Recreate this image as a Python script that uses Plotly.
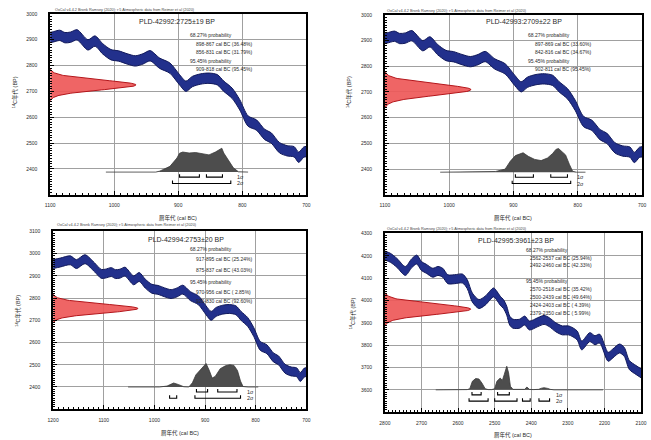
import numpy as np
import plotly.graph_objects as go

W, H = 651, 440

# ---------------- data ----------------
# IntCal20 calibration curve (centre line), 1200-700 cal BC
curve_bc = [1200, 1186, 1166, 1154, 1137, 1118, 1105, 1097, 1085, 1077, 1068, 1058, 1041, 1030, 1018,
            1005, 993, 980, 967, 955, 944, 929, 913, 898, 888, 878, 865, 852, 839, 829, 816, 804, 791,
            778, 765, 755, 742, 730, 719, 712, 704, 700]
curve_bp = [2953, 2960, 2970, 2953, 2975, 2938, 2909, 2910, 2917, 2908, 2910, 2919, 2880, 2895, 2865,
            2842, 2837, 2826, 2818, 2826, 2838, 2809, 2790, 2745, 2720, 2738, 2748, 2751, 2745, 2720,
            2693, 2648, 2585, 2570, 2533, 2520, 2482, 2470, 2466, 2445, 2465, 2467]
# calibration curve, 2800-2100 cal BC
curve4_bc = [2800, 2785, 2767, 2744, 2727, 2713, 2700, 2687, 2669, 2655, 2642, 2628, 2610, 2588, 2575,
             2561, 2543, 2526, 2503, 2494, 2485, 2476, 2467, 2459, 2450, 2432, 2418, 2405, 2382, 2365,
             2351, 2333, 2315, 2298, 2275, 2262, 2240, 2226, 2213, 2190, 2177, 2159, 2146, 2132, 2114, 2100]
curve4_bp = [4201, 4191, 4168, 4132, 4166, 4183, 4154, 4142, 4124, 4132, 4124, 4095, 4095, 4098, 4073,
             4013, 3984, 3999, 4036, 4021, 3999, 3984, 3954, 3910, 3896, 3896, 3910, 3888, 3903, 3913,
             3903, 3880, 3866, 3866, 3844, 3799, 3836, 3822, 3829, 3748, 3763, 3785, 3770, 3711, 3689, 3674]
curve_halfwidth = 20

sample_ids = ["PLD-42992", "PLD-42993", "PLD-42994", "PLD-42995"]
c14_ages = [2725, 2709, 2753, 3961]
c14_errs = [19, 22, 20, 23]

# calibrated probability distributions (relative)
dist1_bc = [1013, 975, 965, 960, 950, 935, 929, 913, 902, 898, 893, 883, 873, 862, 852, 842, 834, 832,
            829, 821, 814, 806, 800, 791]
dist1_p = [0, 0, 0.02, 0, 0, 0, 0.04, 0.24, 0.59, 0.79, 0.84, 0.80, 0.82, 0.76, 0.72, 0.84, 0.96, 1.0,
           0.80, 0.46, 0.18, 0.01, 0, 0]
dist2_bc = [1014, 940, 928, 913, 905, 897, 890, 885, 877, 867, 857, 847, 839, 834, 830, 824, 819, 813,
            808, 802, 788]
dist2_p = [0, 0, 0.03, 0.13, 0.46, 0.70, 0.79, 0.82, 0.67, 0.54, 0.49, 0.60, 0.79, 0.96, 1.0, 0.87,
           0.73, 0.33, 0.04, 0, 0]
dist3_bc = [1052, 990, 975, 962, 952, 942, 932, 925, 918, 908, 902, 898, 892, 886, 880, 870, 860, 851,
            843, 836, 830, 825, 815, 795]
dist3_p = [0, 0, 0.04, 0.17, 0.10, 0.01, 0, 0.18, 0.52, 0.76, 0.94, 1.0, 0.72, 0.38, 0.45, 0.78, 0.90,
           0.95, 0.92, 0.70, 0.25, 0.02, 0, 0]
dist4_bc = [2661, 2585, 2575, 2568, 2561, 2552, 2543, 2535, 2526, 2518, 2508, 2500, 2494, 2485, 2479,
            2474, 2467, 2462, 2457, 2450, 2430, 2418, 2412, 2405, 2395, 2380, 2372, 2365, 2355, 2348,
            2338, 2204]
dist4_p = [0, 0, 0.01, 0.05, 0.36, 0.48, 0.46, 0.29, 0.05, 0.01, 0.01, 0.05, 0.36, 0.50, 0.40, 0.64,
           1.0, 0.72, 0.15, 0.02, 0.01, 0.02, 0.12, 0.02, 0.01, 0.02, 0.07, 0.09, 0.06, 0.02, 0, 0]

# calibrated ranges (cal BC) and probabilities
sig1_ranges = [[(898, 867), (856, 831)], [(897, 869), (842, 816)],
               [(917, 895), (875, 837)], [(2562, 2537), (2492, 2460)]]
sig1_pct = [[36.48, 31.79], [33.60, 34.67], [25.24, 43.03], [25.94, 42.33]]
sig2_ranges = [[(909, 818)], [(902, 811)], [(970, 956), (920, 830)],
               [(2570, 2518), (2500, 2439), (2424, 2403), (2379, 2350)]]
sig2_pct = [[95.45], [95.45], [2.85, 92.60], [35.42, 49.64, 4.39, 5.99]]

x_ticks = [[1100, 1000, 900, 800, 700], [1100, 1000, 900, 800, 700],
           [1200, 1100, 1000, 900, 800, 700], [2800, 2700, 2600, 2500, 2400, 2300, 2200, 2100]]
y_ticks = [[2400, 2500, 2600, 2700, 2800, 2900, 3000], [2400, 2500, 2600, 2700, 2800, 2900, 3000],
           [2400, 2500, 2600, 2700, 2800, 2900, 3000, 3100],
           [3600, 3700, 3800, 3900, 4000, 4100, 4200, 4300]]

curves = [(curve_bc, curve_bp), (curve_bc, curve_bp), (curve_bc, curve_bp), (curve4_bc, curve4_bp)]
dists = [(dist1_bc, dist1_p), (dist2_bc, dist2_p), (dist3_bc, dist3_p), (dist4_bc, dist4_p)]

# ---------------- layout (pixel positions) ----------------
panels = [
    dict(box=(45, 11, 306, 193), xr=(1100, 700), yr=(2300, 3000), title=(174, 19),
         hx=185, rx=192, ys=[32.5, 41, 49.5, 58, 66.5], credit=(48, 7),
         xt=(175.5, 216), yt=(10, 90)),
    dict(box=(386, 12, 648, 193), xr=(1100, 700), yr=(2300, 3000), title=(528, 19),
         hx=530, rx=537, ys=[32.5, 41, 49.5, 58, 66.5], credit=(386, 8.5),
         xt=(517, 216), yt=(350, 90)),
    dict(box=(48, 230, 306, 409), xr=(1200, 700), yr=(2300, 3100), title=(183, 238),
         hx=185, rx=192, ys=[248, 257.5, 268.5, 281, 290.5, 300.5], credit=(50, 224),
         xt=(177, 433), yt=(12, 310)),
    dict(box=(386, 232, 647, 412), xr=(2800, 2100), yr=(3500, 4300), title=(520, 239),
         hx=528, rx=532, ys=[249, 256.5, 264, 280, 288, 296, 304, 312], credit=(386, 227.5),
         xt=(516.5, 435), yt=(353, 312)),
]

FONT = "Liberation Sans, Arial, Noto Sans CJK JP, sans-serif"
TXT = "#2a2a2a"


def px(x):
    return x / W


def py(y):
    return 1 - y / H


fig = go.Figure()
annotations = []
layout = dict()

for i, p in enumerate(panels):
    n = i + 1
    xa = "x" if n == 1 else f"x{n}"
    ya = "y" if n == 1 else f"y{n}"
    x0, y0, x1, y1 = p["box"]
    xl, xrr = p["xr"]
    ylo, yhi = p["yr"]
    xspan = xl - xrr
    yspan = yhi - ylo

    axis_common = dict(showline=True, mirror=True, linecolor="black", linewidth=1.6,
                       showgrid=True, gridcolor="#a0a0a0", gridwidth=0.8, zeroline=False,
                       ticks="inside", ticklen=4, tickcolor="black", tickwidth=1,
                       tickfont=dict(size=5, color=TXT, family=FONT),
                       ticklabeloverflow="allow",
                       minor=dict(dtick=10, ticks="inside", ticklen=2.2, tickcolor="black",
                                  tickwidth=0.8, showgrid=False),
                       fixedrange=True)
    layout["xaxis" if n == 1 else f"xaxis{n}"] = dict(
        domain=[px(x0), px(x1)], range=[xl, xrr], anchor=ya, tickmode="array",
        tickvals=x_ticks[i], ticklabelstandoff=5, **axis_common)
    layout["yaxis" if n == 1 else f"yaxis{n}"] = dict(
        domain=[py(y1), py(y0)], range=[ylo, yhi], anchor=xa, tickmode="array",
        tickvals=y_ticks[i], ticklabelstandoff=10, **axis_common)

    # calibration curve band
    cbc, cbp = curves[i]
    lo = [v - curve_halfwidth for v in cbp]
    hi = [v + curve_halfwidth for v in cbp]
    fig.add_trace(go.Scatter(x=cbc, y=lo, xaxis=xa, yaxis=ya, mode="lines",
                             line=dict(color="#10185a", width=1, shape="spline", smoothing=0.8),
                             hoverinfo="skip", showlegend=False))
    fig.add_trace(go.Scatter(x=cbc, y=hi, xaxis=xa, yaxis=ya, mode="lines", fill="tonexty",
                             fillcolor="#22308c",
                             line=dict(color="#10185a", width=1, shape="spline", smoothing=0.8),
                             hoverinfo="skip", showlegend=False))

    # radiocarbon measurement (normal distribution on the BP axis)
    mu, sd = c14_ages[i], c14_errs[i]
    bp_vals = np.linspace(mu - 3.2 * sd, mu + 3.2 * sd, 121)
    dens = np.exp(-0.5 * ((bp_vals - mu) / sd) ** 2)
    gx = xl - 0.335 * xspan * dens
    gx = np.concatenate([[xl], gx, [xl]])
    gy = np.concatenate([[bp_vals[0]], bp_vals, [bp_vals[-1]]])
    fig.add_trace(go.Scatter(x=gx, y=gy, xaxis=xa, yaxis=ya, mode="lines", fill="toself",
                             fillcolor="rgba(238,88,88,0.92)",
                             line=dict(color="#b3161b", width=1),
                             hoverinfo="skip", showlegend=False))

    # calibrated distribution
    dbc, dp = dists[i]
    base = ylo + 0.125 * yspan
    scale = 0.132 * yspan
    fig.add_trace(go.Scatter(x=dbc, y=[base + scale * v for v in dp], xaxis=xa, yaxis=ya,
                             mode="lines", fill="toself", fillcolor="#4d4d4d",
                             line=dict(color="#3a3a3a", width=0.8),
                             hoverinfo="skip", showlegend=False))

    # range brackets
    tick = 0.016 * yspan
    for ranges, off in ((sig1_ranges[i], 0.028), (sig2_ranges[i], 0.063)):
        yb = base - off * yspan
        bx, by = [], []
        for a, b in ranges:
            bx += [a, a, b, b, None]
            by += [yb + tick, yb, yb, yb + tick, None]
        fig.add_trace(go.Scatter(x=bx, y=by, xaxis=xa, yaxis=ya, mode="lines",
                                 line=dict(color="black", width=1.1),
                                 hoverinfo="skip", showlegend=False))
    xend = min(r[1] for r in sig2_ranges[i])
    for lab, off in (("1σ", 0.028), ("2σ", 0.063)):
        annotations.append(dict(x=xend, y=base - off * yspan, xref=xa, yref=ya, text=lab,
                                showarrow=False, xanchor="left", yanchor="middle", xshift=4,
                                font=dict(size=5.5, color=TXT, family=FONT)))

    # titles and texts
    annotations.append(dict(x=px(p["title"][0]), y=py(p["title"][1]), xref="paper", yref="paper",
                            text=f"{sample_ids[i]}:{c14_ages[i]}±{c14_errs[i]} BP", showarrow=False,
                            xanchor="center", yanchor="middle",
                            font=dict(size=7, color=TXT, family=FONT)))
    lines = [("68.27% probability", p["hx"])]
    for (a, b), pc in zip(sig1_ranges[i], sig1_pct[i]):
        lines.append((f"{a}-{b} cal BC ({pc:5.2f}%)", p["rx"]))
    lines.append(("95.45% probability", p["hx"]))
    for (a, b), pc in zip(sig2_ranges[i], sig2_pct[i]):
        lines.append((f"{a}-{b} cal BC ({pc:5.2f}%)", p["rx"]))
    for (t, xx), yy in zip(lines, p["ys"]):
        annotations.append(dict(x=px(xx), y=py(yy), xref="paper", yref="paper", text=t,
                                showarrow=False, xanchor="left", yanchor="middle",
                                font=dict(size=5, color=TXT, family=FONT)))
    annotations.append(dict(x=px(p["credit"][0]), y=py(p["credit"][1]), xref="paper", yref="paper",
                            text="OxCal v4.4.2 Bronk Ramsey (2020); r:5 Atmospheric data from Reimer et al (2020)",
                            showarrow=False, xanchor="left", yanchor="middle",
                            font=dict(size=3.8, color="#444", family=FONT)))
    annotations.append(dict(x=px(p["xt"][0]), y=py(p["xt"][1]), xref="paper", yref="paper",
                            text="暦年代 (cal BC)", showarrow=False, xanchor="center", yanchor="middle",
                            font=dict(size=5.5, color=TXT, family=FONT)))
    annotations.append(dict(x=px(p["yt"][0]), y=py(p["yt"][1]), xref="paper", yref="paper",
                            text="<sup>14</sup>C年代 (BP)", showarrow=False, textangle=-90,
                            xanchor="center", yanchor="middle",
                            font=dict(size=5.5, color=TXT, family=FONT)))

fig.update_layout(width=W, height=H, margin=dict(l=0, r=0, t=0, b=0),
                  paper_bgcolor="white", plot_bgcolor="white", showlegend=False,
                  annotations=annotations, font=dict(family=FONT), **layout)

fig.write_html("out.html", config={"displayModeBar": False},
               post_script="document.body.style.margin='0px';document.body.style.overflow='hidden';")
